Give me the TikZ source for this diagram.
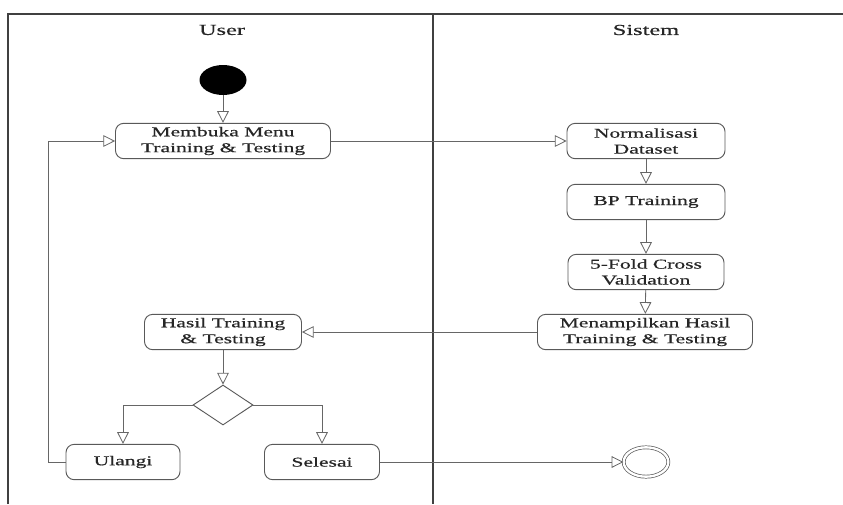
\documentclass[tikz,border=0pt]{standalone}
\usepackage{fontspec}
\setmainfont{Liberation Serif}
\newfontfamily\umlfont[FakeStretch=1.6,FakeBold=0.6]{Liberation Serif}
\usetikzlibrary{arrows.meta,shapes.geometric}

\begin{document}
\begin{tikzpicture}[x=0.03cm,y=-0.03cm,
  lane/.style={draw=black!75, line width=1.4pt},
  lanehead/.style={font=\umlfont\fontsize{13}{15}\selectfont, text=black!85},
  act/.style={draw=black!65, line width=0.8pt, rounded corners=7pt, align=center,
    inner sep=0pt, minimum height=1.06cm, text=black!85,
    font=\umlfont\fontsize{11.5}{13.6}\selectfont},
  flow/.style={draw=black!60, line width=0.7pt,
    -{Triangle[open, length=10pt, width=10pt, fill=white]}}]
%\draw[help lines] (0,0) grid[step=50] (843,504);
\useasboundingbox (0,0) rectangle (843,504);

% swimlanes
\draw[lane] (8,504) -- (8,14) -- (843,14);
\draw[lane] (433,14) -- (433,504);
\node[lanehead] (user) at (222,30) {User};
\node[lanehead] (sistem) at (646,30) {Sistem};

% start and end
\node[ellipse, fill=black, minimum width=1.41cm, minimum height=0.9cm, inner sep=0pt] (start) at (223,80) {};
\node[ellipse, draw=black!65, double, double distance=2pt, line width=0.6pt,
  minimum width=1.34cm, minimum height=0.88cm, inner sep=0pt] (akhir) at (646,462) {};

% activities
\node[act, minimum width=6.45cm] (menu) at (223,141) {Membuka Menu\\Training \& Testing};
\node[act, minimum width=4.74cm] (norm) at (646,141) {Normalisasi\\Dataset};
\node[act, minimum width=4.74cm] (bp) at (646,202) {BP Training};
\node[act, minimum width=4.68cm] (fold) at (646,272) {5-Fold Cross\\Validation};
\node[act, minimum width=6.45cm] (tampil) at (645,332) {Menampilkan Hasil\\Training \& Testing};
\node[act, minimum width=4.71cm] (hasil) at (223,332) {Hasil Training\\\& Testing};
\node[diamond, draw=black!65, line width=0.8pt, minimum width=1.8cm, minimum height=1.2cm, inner sep=0pt] (dec) at (223,405) {};
\node[act, minimum width=3.42cm] (ulangi) at (123,462) {Ulangi};
\node[act, minimum width=3.45cm] (selesai) at (322,462) {Selesai};
\coordinate (loop) at (48,462);

% flows
\draw[flow] (start) -- (menu);
\draw[flow] (menu) -- (norm);
\draw[flow] (norm) -- (bp);
\draw[flow] (bp) -- (fold);
\draw[flow] (fold) -- (tampil);
\draw[flow] (tampil) -- (hasil);
\draw[flow] (hasil) -- (dec);
\draw[flow] (dec.west) -| (ulangi.north);
\draw[flow] (dec.east) -| (selesai.north);
\draw[flow] (ulangi.west) -- (loop) |- (menu.west);
\draw[flow] (selesai) -- (akhir);
\end{tikzpicture}
\end{document}
